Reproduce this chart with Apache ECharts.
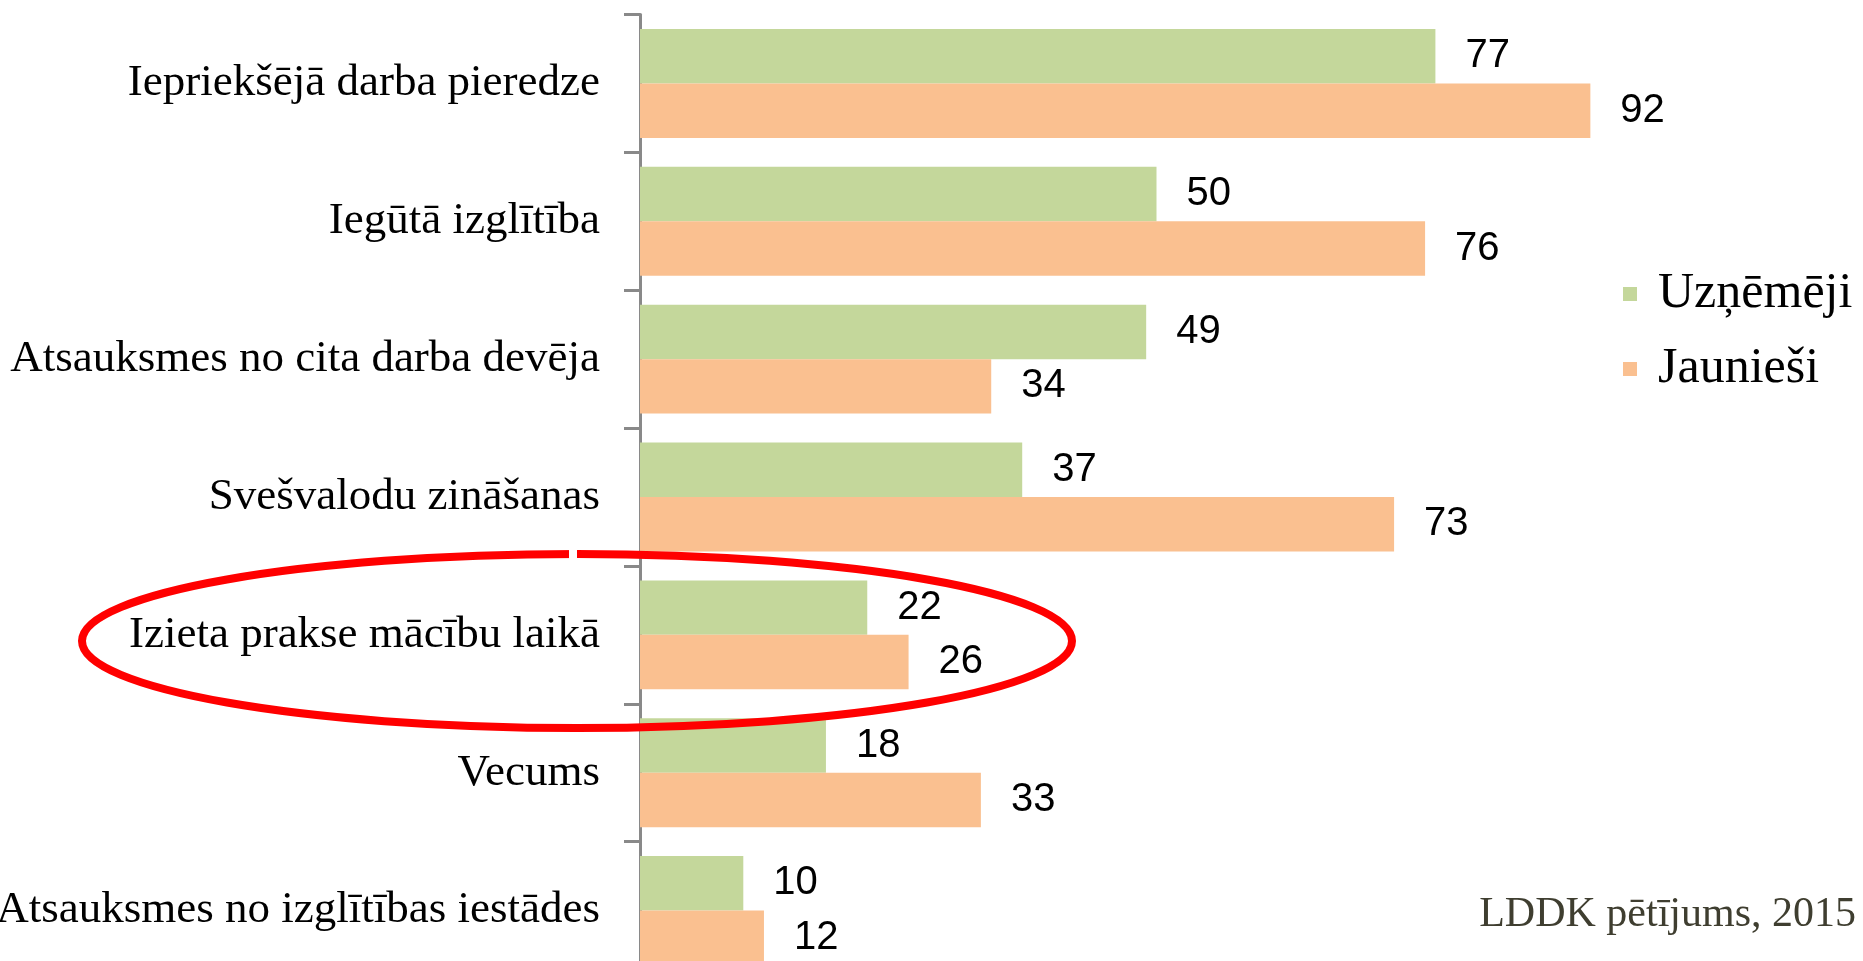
<!DOCTYPE html>
<html>
<head>
<meta charset="utf-8">
<script src="https://cdn.jsdelivr.net/npm/echarts@6/dist/echarts.min.js"></script>
<style>
  html, body { margin: 0; padding: 0; background: #fff; overflow: hidden; }
  /* chart is taller than the window: last category is cut at the bottom like in the original */
  #chart { width: 1863px; height: 1000px; }
</style>
</head>
<body>
<div id="chart"></div>
<script>
// dati
const categories = [
  "Iepriekšējā darba pieredze",
  "Iegūtā izglītība",
  "Atsauksmes no cita darba devēja",
  "Svešvalodu zināšanas",
  "Izieta prakse mācību laikā",
  "Vecums",
  "Atsauksmes no izglītības iestādes"
];
const seriesNames = ["Uzņēmēji", "Jaunieši"];
const uznemeji = [77, 50, 49, 37, 22, 18, 10];
const jauniesi = [92, 76, 34, 73, 26, 33, 12];
const sourceText = "LDDK pētījums, 2015";

const chart = echarts.init(document.getElementById("chart"));

const labelStyle = {
  show: true,
  position: "right",
  distance: 30,
  fontSize: 40,
  fontFamily: "Liberation Sans",
  color: "#000"
};

chart.setOption({
  animation: false,
  grid: {
    left: 640,
    top: 14.5,
    width: 1033,
    height: 965,
    outerBoundsMode: "none"
  },
  xAxis: { type: "value", min: 0, max: 100, show: false },
  yAxis: {
    type: "category",
    inverse: true,
    data: categories,
    axisLine: { show: true, lineStyle: { color: "#898989", width: 3 } },
    axisTick: { show: true, length: 16, lineStyle: { color: "#898989", width: 3 } },
    axisLabel: {
      margin: 40,
      fontSize: 45,
      fontFamily: "Liberation Serif",
      color: "#000"
    },
    splitLine: { show: false }
  },
  legend: {
    orient: "vertical",
    left: 1618,
    top: 264,
    itemWidth: 14,
    itemHeight: 14,
    itemGap: 25,
    icon: "rect",
    data: seriesNames,
    textStyle: {
      fontSize: 50,
      fontFamily: "Liberation Serif",
      color: "#000",
      padding: [0, 0, 0, 16]
    }
  },
  series: [
    {
      name: seriesNames[0],
      type: "bar",
      data: uznemeji,
      barGap: 0,
      barCategoryGap: "21%",
      itemStyle: { color: "#C4D79B" },
      label: labelStyle
    },
    {
      name: seriesNames[1],
      type: "bar",
      data: jauniesi,
      barGap: 0,
      barCategoryGap: "21%",
      itemStyle: { color: "#FAC090" },
      label: labelStyle
    }
  ],
  graphic: [
    {
      type: "ellipse",
      z: 100,
      shape: { cx: 577, cy: 641, rx: 495, ry: 87 },
      style: { fill: null, stroke: "#FF0000", lineWidth: 8 }
    },
    {
      // mazā sprauga elipsē
      type: "rect",
      z: 101,
      shape: { x: 569, y: 546, width: 8, height: 16 },
      style: { fill: "#fff" }
    },
    {
      type: "text",
      z: 100,
      x: 1856,
      y: 915,
      style: {
        text: sourceText,
        align: "right",
        verticalAlign: "middle",
        fontSize: 42,
        fontFamily: "Liberation Serif",
        fill: "#3f3e30"
      }
    }
  ]
});
</script>
</body>
</html>
